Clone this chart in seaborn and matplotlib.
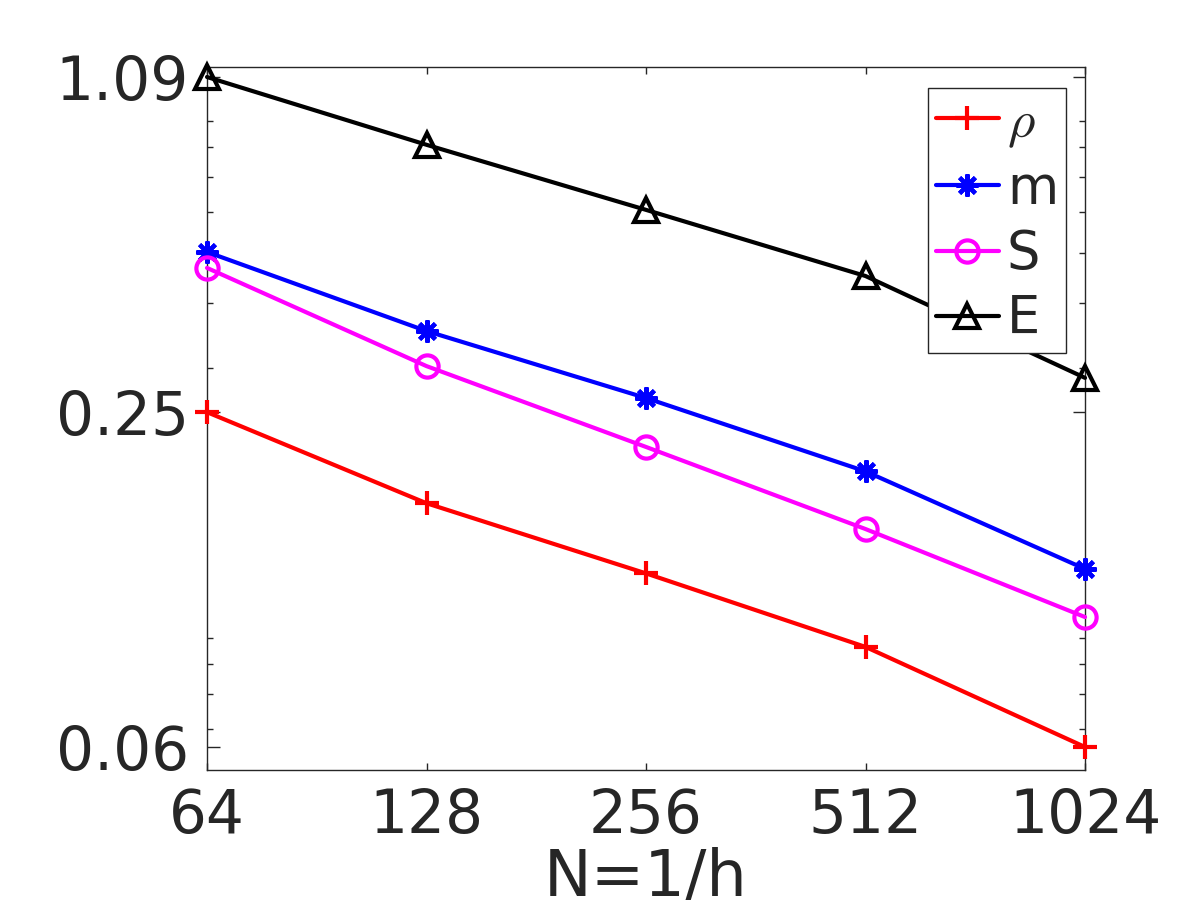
import numpy as np
import pandas as pd
import seaborn as sns
import matplotlib.pyplot as plt

# datos
N = [64, 128, 256, 512, 1024]
err_rho = [0.246, 0.164, 0.120, 0.0865, 0.0554]
err_m = [0.502, 0.353, 0.262, 0.189, 0.1224]
err_S = [0.4676, 0.302, 0.2107, 0.1462, 0.0988]
err_E = [1.094, 0.809, 0.6055, 0.451, 0.2866]

y_ticks = [0.0554, 0.246, 1.094]
y_ticklabels = ["0.06", "0.25", "1.09"]
y_minor = [0.06, 0.07, 0.08, 0.09, 0.3, 0.4, 0.5, 0.6, 0.7, 0.8, 0.9]

series = [
    (r"$\rho$", err_rho, "red", "+", 17),
    ("m", err_m, "blue", (8, 2, 0), 16),
    ("S", err_S, "magenta", "o", 16),
    ("E", err_E, "black", "^", 17),
]

sns.set_theme(style="ticks")
plt.rcParams["font.family"] = ["DejaVu Sans"]
plt.rcParams["mathtext.fontset"] = "cm"

fig = plt.figure(figsize=(12, 9), dpi=100)
ax = fig.add_axes([0.1725, 0.1444, 0.7317, 0.7812])

for lab, vals, col, mk, ms in series:
    df = pd.DataFrame({"N": N, "err": vals})
    sns.lineplot(data=df, x="N", y="err", ax=ax, color=col, marker=mk,
                 markersize=ms, markerfacecolor="none", markeredgecolor=col,
                 markeredgewidth=3, linewidth=3, label=lab, clip_on=False,
                 zorder=3)

ax.set_xscale("log", base=2)
ax.set_yscale("log")
ax.set_xlim(64, 1024)
ax.set_ylim(0.05, 1.144)
ax.set_xticks(N)
ax.set_xticklabels([str(n) for n in N])
ax.set_xticks([], minor=True)
ax.set_yticks(y_ticks)
ax.set_yticklabels(y_ticklabels)
ax.set_yticks(y_minor, minor=True)
ax.set_yticklabels([], minor=True)

ax.tick_params(axis="both", which="major", labelsize=43, colors="#262626",
               direction="in", top=True, right=True, width=1)
ax.tick_params(axis="y", which="major", length=9, pad=13)
ax.tick_params(axis="x", which="major", length=5, pad=12)
ax.tick_params(axis="y", which="minor", length=4.5, width=1, direction="in",
               right=True, color="#262626")
for sp in ax.spines.values():
    sp.set_color("#262626")
    sp.set_linewidth(1)

ax.set_xlabel("N=1/h", fontsize=46, color="#262626", labelpad=1)
ax.set_ylabel("")

leg = ax.legend(loc="upper right", bbox_to_anchor=(1066 / 1200, 1 - 88 / 900),
                bbox_transform=fig.transFigure, fontsize=38, frameon=True,
                fancybox=False, edgecolor="#262626", framealpha=1,
                handlelength=1.2, handletextpad=0.15, labelspacing=0.25,
                borderpad=0.15, borderaxespad=0)
leg.get_frame().set_linewidth(1)

fig.savefig("out.png", dpi=100)
